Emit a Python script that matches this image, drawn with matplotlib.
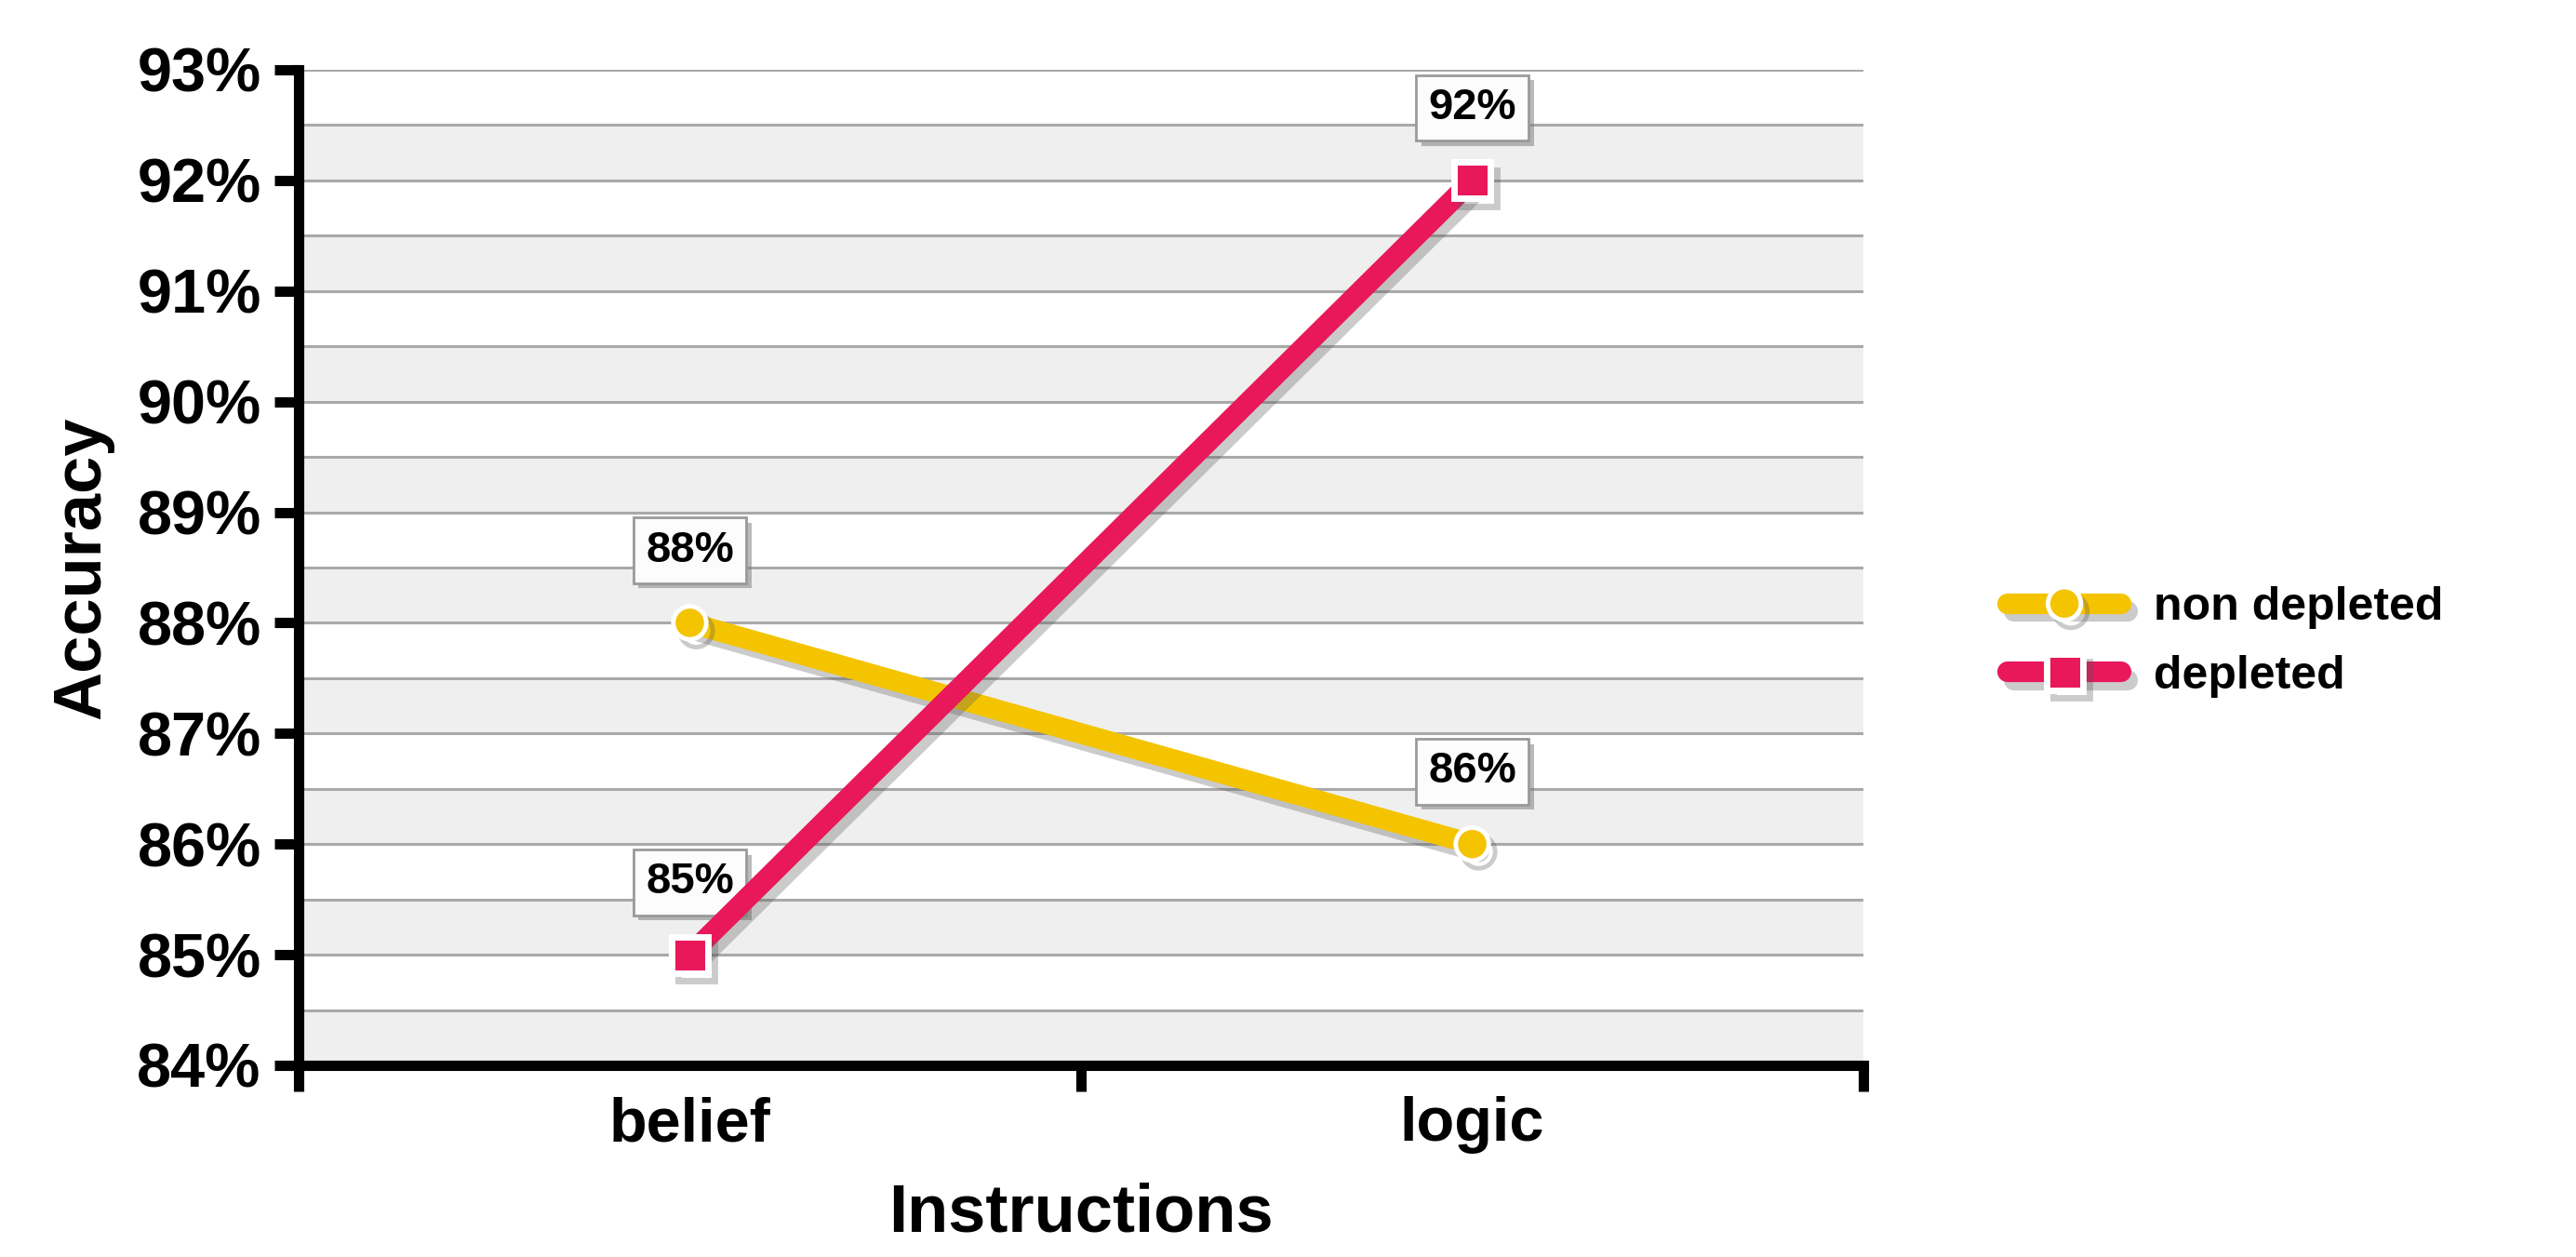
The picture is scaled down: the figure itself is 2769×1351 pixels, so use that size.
import numpy as np
import matplotlib.pyplot as plt
import matplotlib.patheffects as pe

instructions = ["belief", "logic"]
non_depleted = [88, 86]
depleted = [85, 92]
y_ticks = list(range(84, 94))

yellow = "#f4c400"
red = "#e8185a"

plt.rcParams['font.family'] = ['Liberation Sans', 'DejaVu Sans']
plt.rcParams['font.weight'] = 'bold'

fig = plt.figure(figsize=(27.69, 13.51), dpi=100)
ax = fig.add_axes([0.1159, 0.1525, 0.6075, 0.7920])

# striped background: grey band in the lower half of every percent
for n in y_ticks[:-1]:
    ax.axhspan(n, n + 0.5, color="#efefef", lw=0, zorder=0)
for g in np.arange(84.5, 93.01, 0.5):
    ax.axhline(g, color="#a9a9a9", lw=2.2, zorder=1)

x = np.arange(len(instructions)) + 0.5
shadow = [pe.SimpleLineShadow(offset=(5, -6), shadow_color="#555555", alpha=0.3), pe.Normal()]

l1, = ax.plot(x, non_depleted, color=yellow, lw=16, marker="o", ms=25.5,
              mfc=yellow, mec="white", mew=3.5, solid_capstyle="round",
              label="non depleted", zorder=5, path_effects=shadow)
l2, = ax.plot(x, depleted, color=red, lw=16, marker="s", ms=28,
              mfc=red, mec="white", mew=5, solid_capstyle="round",
              label="depleted", zorder=5, path_effects=shadow)

# value boxes above the points
for xs, ys in [(x, non_depleted), (x, depleted)]:
    for xi, yi in zip(xs, ys):
        t = ax.annotate(f"{yi}%", (xi, yi), xytext=(0, 56), textcoords="offset points",
                        ha="center", va="center", fontsize=34, fontweight="bold", zorder=4,
                        bbox=dict(boxstyle="square,pad=0.28", fc="#fcfcfc", ec="#9a9a9a", lw=2))
        t.get_bbox_patch().set_path_effects(
            [pe.SimplePatchShadow(offset=(4, -4), shadow_rgbFace="#777777", alpha=0.5), pe.Normal()])

ax.set_xlim(0, 2)
ax.set_ylim(84, 93)
ax.set_yticks(y_ticks)
ax.set_yticklabels([f"{v}%" for v in y_ticks])
ax.set_xticks([0, 1, 2])
ax.set_xticklabels([])
ax.set_xticks(x, minor=True)
ax.set_xticklabels(instructions, minor=True)

ax.tick_params(axis="y", which="major", length=19, width=8, labelsize=48, pad=10)
ax.tick_params(axis="x", which="major", length=20, width=8)
ax.tick_params(axis="x", which="minor", length=0, labelsize=48, pad=24)

for s in ["top", "right"]:
    ax.spines[s].set_visible(False)
for s in ["left", "bottom"]:
    ax.spines[s].set_linewidth(8)
    ax.spines[s].set_zorder(6)

ax.set_xlabel("Instructions", fontsize=52, fontweight="bold", labelpad=22)
ax.set_ylabel("Accuracy", fontsize=52, fontweight="bold", labelpad=18)

ax.legend(handles=[l1, l2], loc="center left", bbox_to_anchor=(0.7793, 0.4893),
          bbox_transform=fig.transFigure, frameon=False, fontsize=36,
          handlelength=2.45, handletextpad=0.7, labelspacing=0.55,
          borderpad=0, borderaxespad=0)

fig.savefig("out.png", dpi=100)
